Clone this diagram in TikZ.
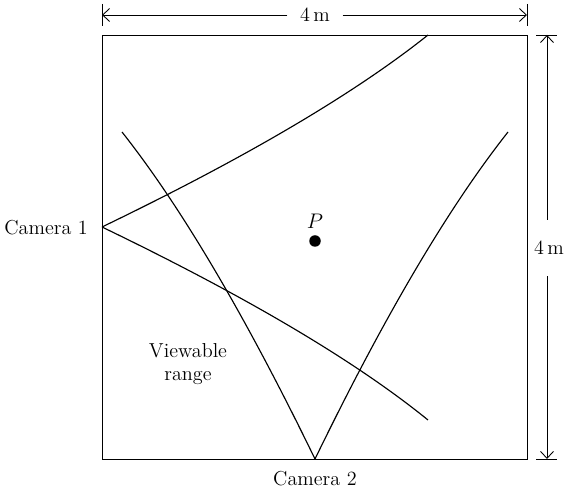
\documentclass[tikz,border=0pt]{standalone}
\usepackage{tikz}
\usetikzlibrary{arrows.meta,positioning}

\begin{document}
\begin{tikzpicture}[x=0.02cm, y=-0.02cm,
  room/.style={line width=0.55pt},
  ray/.style={line width=0.65pt},
  dim/.style={-{Straight Barb[length=1.4mm,width=2.6mm]}, line width=0.5pt},
  lab/.style={font=\fontsize{11.5}{13.5}\selectfont, align=center, inner sep=1pt},
  dot/.style={circle, fill=black, inner sep=0pt, minimum size=2.3mm}
]
\useasboundingbox (0,0) rectangle (565,492);

% room, 4 m x 4 m
\coordinate (nw) at (102,35);
\coordinate (se) at (527,459);
\draw[room] (nw) rectangle (se);

% cameras and ends of their sight lines
\coordinate (cam1) at (102,227);
\coordinate (cam2) at (315,459);
\coordinate (c1top) at (428,35);
\coordinate (c1low) at (428,420);
\coordinate (c2left) at (122,132);
\coordinate (c2right) at (508,132);
\draw[ray] (cam1) .. controls (245,158) and (354,94) .. (c1top);
\draw[ray] (cam1) .. controls (245,296) and (354,360) .. (c1low);
\draw[ray] (cam2) .. controls (246,317) and (182,208) .. (c2left);
\draw[ray] (cam2) .. controls (384,317) and (448,208) .. (c2right);

\node[lab, anchor=east] (cam1lab) at (90,228) {Camera 1};
\node[lab] (cam2lab) at (315,479) {Camera 2};
\node[dot] (p) at (315,241) {};
\node[lab] (plab) at (315,221) {$P$};
\node[lab] (view) at (188,364) {Viewable\\range};

% dimensions
\draw[room] (102,4) -- (102,26);
\draw[room] (527,4) -- (527,26);
\coordinate (wl) at (102,15);
\coordinate (wr) at (527,15);
\node[lab, inner xsep=7pt] (wlab) at (315,15) {4\,m};
\draw[dim] (wlab) -- (wl);
\draw[dim] (wlab) -- (wr);

\draw[room] (536,35) -- (557,35);
\draw[room] (536,459) -- (557,459);
\coordinate (ht) at (547,35);
\coordinate (hb) at (547,459);
\node[lab, inner ysep=12pt] (hlab) at (549,248) {4\,m};
\draw[dim] (hlab.north -| ht) -- (ht);
\draw[dim] (hlab.south -| hb) -- (hb);
\end{tikzpicture}
\end{document}
